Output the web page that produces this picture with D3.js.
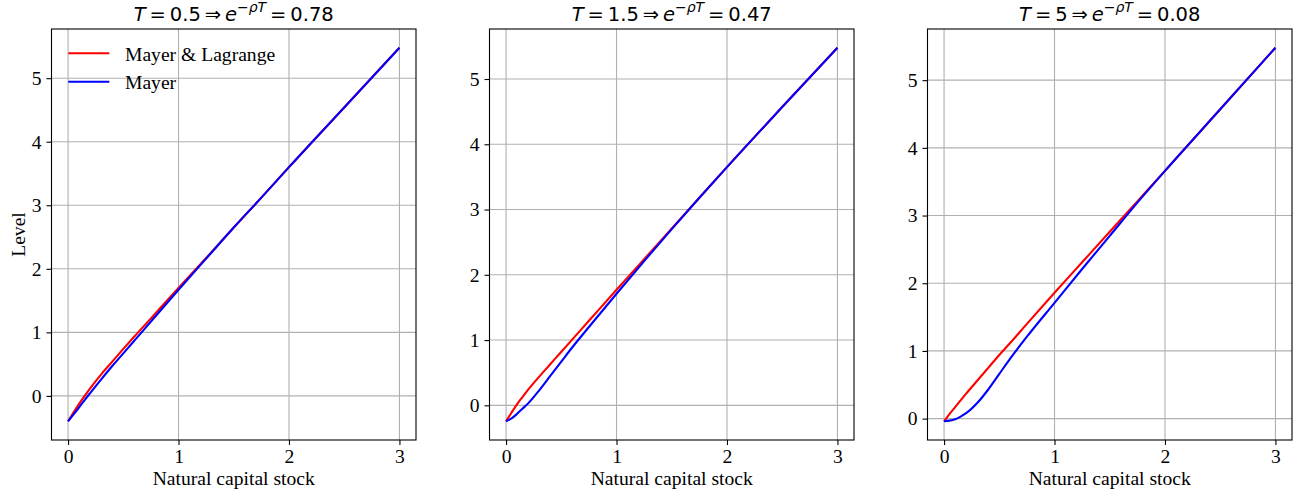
<!DOCTYPE html>
<html><head><meta charset="utf-8">
<script src="https://cdn.jsdelivr.net/npm/d3@7"></script>
<style>body{margin:0;background:#fff}</style>
</head><body><svg id="c" width="1296" height="495"></svg>
<script>
// ---- data ----
const xs = [0, 0.05, 0.1, 0.15, 0.2, 0.3, 0.4, 0.5, 0.6, 0.75, 1, 1.25, 1.5, 1.75, 2, 2.5, 3];
const horizons = ["0.5", "1.5", "5"];
const discounts = ["0.78", "0.47", "0.08"];
const seriesNames = ["Mayer & Lagrange", "Mayer"];
const red1 = [-0.40, -0.26, -0.125, 0.0, 0.12, 0.34, 0.54, 0.74, 0.935, 1.22, 1.70, 2.17, 2.65, 3.12, 3.60, 4.54, 5.48];
const blue1 = [-0.40, -0.29, -0.18, -0.065, 0.045, 0.26, 0.47, 0.67, 0.87, 1.17, 1.67, 2.16, 2.65, 3.12, 3.60, 4.54, 5.48];
const red2 = [-0.245, -0.11, 0.02, 0.13, 0.24, 0.44, 0.63, 0.82, 1.01, 1.295, 1.77, 2.24, 2.71, 3.18, 3.65, 4.57, 5.48];
const blue2 = [-0.245, -0.20, -0.13, -0.05, 0.03, 0.23, 0.45, 0.67, 0.89, 1.20, 1.71, 2.21, 2.70, 3.18, 3.65, 4.57, 5.48];
const red3 = [-0.04, 0.07, 0.17, 0.27, 0.37, 0.56, 0.75, 0.94, 1.12, 1.40, 1.86, 2.31, 2.76, 3.21, 3.66, 4.57, 5.48];
const blue3 = [-0.04, -0.03, -0.01, 0.03, 0.08, 0.23, 0.43, 0.66, 0.89, 1.21, 1.71, 2.21, 2.70, 3.19, 3.66, 4.57, 5.48];
const xTicks = [0, 1, 2, 3];
const yTicks = [0, 1, 2, 3, 4, 5];
const xLabel = "Natural capital stock";
const yLabel = "Level";

const panels = [
  {red: red1, blue: blue1},
  {red: red2, blue: blue2},
  {red: red3, blue: blue3}
];
const colors = ["#ff0000", "#0000ff"];

// ---- layout ----
const svg = d3.select("#c");
const lefts = [51.5, 489.5, 927.5];
const pw = 364.5, pTop = 29, ph = 411;
const serif = "'Liberation Serif','Times New Roman',serif";
const sans = "'DejaVu Sans',sans-serif";
const tickFs = 19.6;

panels.forEach((p, i) => {
  const g = svg.append("g").attr("transform", `translate(${lefts[i]},${pTop})`);
  const all = p.red.concat(p.blue);
  const lo = d3.min(all), hi = d3.max(all), m = (hi - lo) * 0.05;
  const x = d3.scaleLinear().domain([-0.15, 3.15]).range([0, pw]);
  const y = d3.scaleLinear().domain([lo - m, hi + m]).range([ph, 0]);

  // grid
  g.append("g").selectAll("line").data(xTicks).join("line")
    .attr("x1", d => x(d)).attr("x2", d => x(d)).attr("y1", 0).attr("y2", ph)
    .attr("stroke", "#b0b0b0").attr("stroke-width", 1.1);
  g.append("g").selectAll("line").data(yTicks).join("line")
    .attr("y1", d => y(d)).attr("y2", d => y(d)).attr("x1", 0).attr("x2", pw)
    .attr("stroke", "#b0b0b0").attr("stroke-width", 1.1);

  // lines
  const line = d3.line().x((d, j) => x(xs[j])).y(d => y(d)).curve(d3.curveMonotoneX);
  [p.red, p.blue].forEach((s, k) => {
    g.append("path").attr("d", line(s)).attr("fill", "none")
      .attr("stroke", colors[k]).attr("stroke-width", 2.1).attr("stroke-linejoin", "round");
  });

  // axes
  const xa = g.append("g").attr("transform", `translate(0,${ph})`)
    .call(d3.axisBottom(x).tickValues(xTicks).tickFormat(d3.format("d")).tickSize(5).tickPadding(4));
  const ya = g.append("g")
    .call(d3.axisLeft(y).tickValues(yTicks).tickFormat(d3.format("d")).tickSize(5).tickPadding(5));
  [xa, ya].forEach(a => {
    a.select(".domain").remove();
    a.selectAll(".tick line").attr("stroke", "#000").attr("stroke-width", 1.1);
    a.selectAll(".tick text").attr("font-family", serif).attr("font-size", tickFs).attr("fill", "#000");
  });
  // frame
  g.append("rect").attr("width", pw).attr("height", ph).attr("fill", "none")
    .attr("stroke", "#000").attr("stroke-width", 1.1);

  // x label
  g.append("text").attr("x", pw / 2).attr("y", ph + 44.5).attr("text-anchor", "middle")
    .attr("font-family", serif).attr("font-size", tickFs).text(xLabel);

  // title
  const t = g.append("text").attr("x", pw / 2).attr("y", -8.3).attr("text-anchor", "middle")
    .attr("font-family", sans).attr("font-size", 19.5).attr("fill", "#000");
  t.append("tspan").attr("font-style", "italic").text("T");
  t.append("tspan").text(`\u2009=\u2009${horizons[i]}\u2009\u21D2\u2009`);
  t.append("tspan").attr("font-style", "italic").text("e");
  t.append("tspan").attr("font-size", 14).attr("dy", -8.5).text("\u2212");
  t.append("tspan").attr("font-size", 14).attr("font-style", "italic").text("\u03C1T");
  t.append("tspan").attr("dy", 8.5).text(`\u2009=\u2009${discounts[i]}`);

  if (i === 0) {
    // y label
    svg.append("text").attr("transform", `translate(25,${pTop + ph / 2}) rotate(-90)`)
      .attr("text-anchor", "middle").attr("font-family", serif).attr("font-size", tickFs).text(yLabel);
    // legend
    const lg = g.append("g");
    seriesNames.forEach((n, k) => {
      const yy = 24.3 + k * 28.4;
      lg.append("line").attr("x1", 16.8).attr("x2", 57.8).attr("y1", yy).attr("y2", yy)
        .attr("stroke", colors[k]).attr("stroke-width", 2.1);
      lg.append("text").attr("x", 73.5).attr("y", yy + 7.5).attr("font-family", serif)
        .attr("font-size", tickFs).text(n);
    });
  }
});
</script></body></html>
